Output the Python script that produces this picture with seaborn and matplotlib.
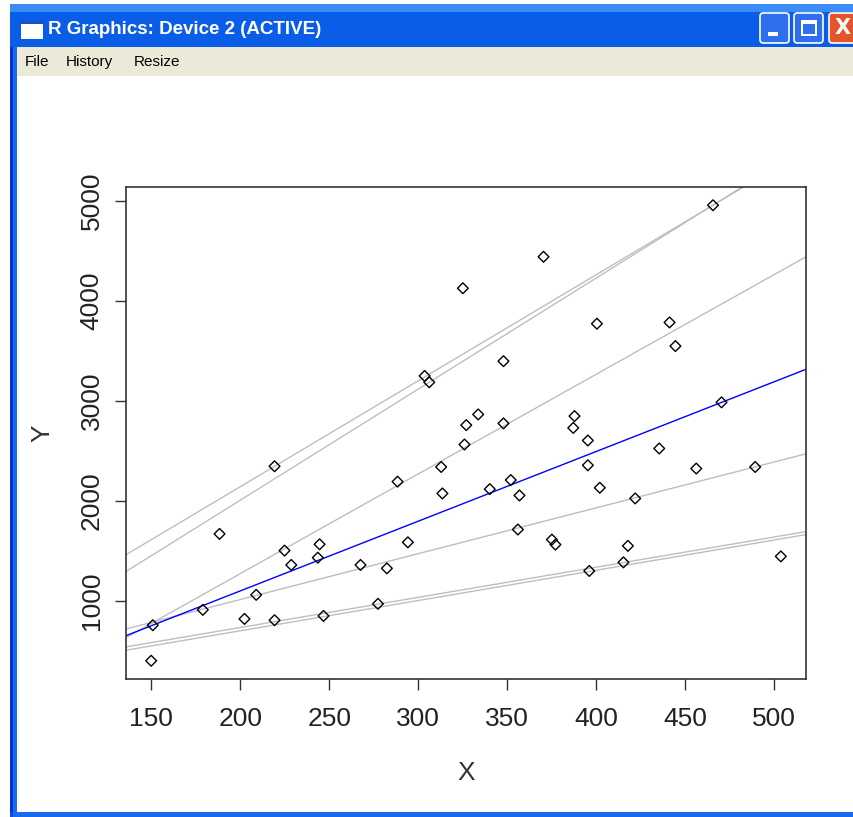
import matplotlib
matplotlib.use("Agg")
import matplotlib.pyplot as plt
from matplotlib.patches import Rectangle, FancyBboxPatch
import matplotlib.font_manager as fm
import numpy as np
import pandas as pd
import seaborn as sns

# ---------------- data ----------------
x_vals = [150.9, 150.0, 179.0, 188.4, 202.4, 209.0, 219.3, 219.3, 224.9, 228.7,
          243.6, 244.6, 246.8, 267.6, 277.4, 282.4, 288.4, 294.2, 303.6, 306.2,
          312.9, 313.6, 325.1, 326.0, 327.0, 333.7, 340.2, 347.9, 347.9, 352.0,
          356.9, 356.0, 370.4, 375.1, 377.1, 387.8, 387.1, 395.3, 395.3, 396.1,
          400.4, 402.0, 415.3, 417.8, 421.9, 435.4, 441.2, 444.5, 456.2, 465.6,
          470.4, 489.3, 503.7]
y_vals = [756, 400, 910, 1670, 819, 1060, 2347, 806, 1503, 1359,
          1432, 1566, 849, 1359, 970, 1325, 2193, 1586, 3251, 3188,
          2340, 2075, 4129, 2565, 2759, 2866, 2118, 3399, 2776, 2209,
          2055, 1714, 4444, 1613, 1563, 2849, 2731, 2605, 2357, 1299,
          3774, 2132, 1385, 1550, 2025, 2525, 3787, 3550, 2324, 4960,
          2987, 2340, 1445]

quantiles = [0.05, 0.10, 0.25, 0.75, 0.90, 0.95]
q_intercepts = [94, 129, 95, -724, -217, 20]
q_slopes = [3.03, 3.02, 4.59, 9.98, 11.12, 10.61]
median_intercept = -297
median_slope = 6.98

x_ticks = [150, 200, 250, 300, 350, 400, 450, 500]
y_ticks = [1000, 2000, 3000, 4000, 5000]

# ---------------- style ----------------
sns.set_theme(style="ticks")
avail = {f.name for f in fm.fontManager.ttflist}
narrow = "Liberation Sans Narrow" if "Liberation Sans Narrow" in avail else "Liberation Sans"
plt.rcParams["font.family"] = [narrow, "DejaVu Sans"]

W, H = 854, 817
fig = plt.figure(figsize=(W / 100, H / 100), dpi=100)
fig.patch.set_facecolor("white")


def fx(px):
    return px / W


def fy(py):
    return 1 - py / H


def rect(x0, y0, x1, y1, color, z=-10, **kw):
    fig.add_artist(Rectangle((fx(x0), fy(y1)), fx(x1) - fx(x0), fy(y0) - fy(y1),
                             transform=fig.transFigure, facecolor=color,
                             edgecolor="none", zorder=z, **kw))


# ---------------- window chrome ----------------
rect(10, 4, 854, 817, "#0A4FD8")            # window frame
rect(10, 4, 854, 12, "#3C8CF7")             # light top band of title bar
rect(10, 12, 854, 47, "#0A5DE6")            # title bar
rect(17, 47, 854, 76, "#ECE9D8")            # menu bar
rect(17, 76, 854, 812, "white")             # client area
rect(10, 47, 13, 812, "#0831D9")
rect(13, 47, 17, 812, "#1A6AF0")
rect(13, 812, 854, 817, "#1A6AF0")

# icon
rect(21, 21, 43, 39, "white", z=-9)
rect(21, 21, 43, 24, "#1B4FC8", z=-8)

fig.text(fx(48), fy(30), "R Graphics: Device 2 (ACTIVE)", color="white",
         fontsize=13.5, fontweight="bold", va="center", ha="left")

# buttons
for bx, col in [(760, "#2E6FF0"), (794, "#2E6FF0"), (829, "#E2542A")]:
    fig.add_artist(FancyBboxPatch((fx(bx), fy(43)), fx(29), 30 / H,
                                  boxstyle="round,pad=0,rounding_size=0.004",
                                  transform=fig.transFigure, facecolor=col,
                                  edgecolor="white", linewidth=1.2, zorder=-9))
rect(768, 32, 778, 36, "white", z=-8)
rect(801, 20, 817, 36, "white", z=-8)
rect(803, 24, 815, 34, "#2E6FF0", z=-7)
fig.text(fx(843), fy(28), "X", color="white", fontsize=15, fontweight="bold",
         ha="center", va="center", family="DejaVu Sans")

for tx, t in [(25, "File"), (66, "History"), (134, "Resize")]:
    fig.text(fx(tx), fy(62), t, fontsize=11, va="center", ha="left",
             color="black", family="Liberation Sans")

# ---------------- plot ----------------
ax = fig.add_axes([fx(126), fy(679), fx(806) - fx(126), fy(187) - fy(679)])
ax.set_zorder(5)
ax.set_facecolor("white")

df = pd.DataFrame({"X": x_vals, "Y": y_vals})
xr = max(x_vals) - min(x_vals)
yr = max(y_vals) - min(y_vals)
ax.set_xlim(min(x_vals) - 0.04 * xr, max(x_vals) + 0.04 * xr)
ax.set_ylim(min(y_vals) - 0.04 * yr, max(y_vals) + 0.04 * yr)

for a, b in zip(q_intercepts, q_slopes):
    ax.axline((0, a), slope=b, color="#BEBEBE", linewidth=1.0, zorder=1)
ax.axline((0, median_intercept), slope=median_slope, color="blue",
          linewidth=1.0, zorder=2)

sns.scatterplot(data=df, x="X", y="Y", ax=ax, marker="D", s=30,
                facecolor="none", edgecolor="black", linewidth=1.0, zorder=3)

ax.set_xticks(x_ticks)
ax.set_yticks(y_ticks)
ax.set_xticklabels([str(v) for v in x_ticks])
ax.set_yticklabels([str(v) for v in y_ticks], rotation=90, va="center")
ax.tick_params(axis="both", direction="out", length=8, width=1.0,
               color="#333333", labelsize=19, labelcolor="#222222")
ax.tick_params(axis="x", pad=12)
ax.tick_params(axis="y", pad=8)
for s in ax.spines.values():
    s.set_color("#333333")
    s.set_linewidth(1.2)

ax.set_xlabel("X", fontsize=19, color="#333333", labelpad=22)
ax.set_ylabel("Y", fontsize=19, color="#333333", labelpad=18, rotation=90)

fig.savefig("out.png", dpi=100)
